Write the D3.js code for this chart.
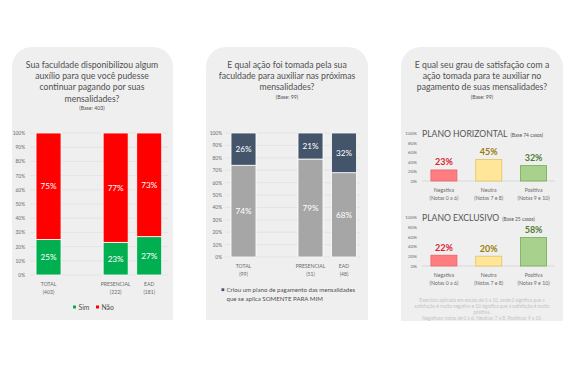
<!DOCTYPE html>
<html><head><meta charset="utf-8">
<script src="https://cdn.jsdelivr.net/npm/d3@7"></script>
<style>
html,body{margin:0;padding:0;background:#fff;}
svg{display:block;font-family:Lato, "Open Sans", sans-serif;}
</style></head>
<body>
<svg id="chart" width="574" height="366"></svg>
<script>
// ---------- DATA ----------
const p1Title = ["Sua faculdade disponibilizou algum", "auxílio para que você pudesse", "continuar pagando por suas", "mensalidades?"];
const p1Base = "(Base: 403)";
const p1Categories = ["TOTAL", "", "PRESENCIAL", "EAD"];
const p1CatBases = ["(403)", "", "(222)", "(181)"];
const p1Sim = [25, null, 23, 27];
const p1Nao = [75, null, 77, 73];
const p1Legend = ["Sim", "Não"];

const p2Title = ["E qual ação foi tomada pela sua", "faculdade para auxiliar nas próximas", "mensalidades?"];
const p2Base = "(Base: 99)";
const p2Categories = ["TOTAL", "", "PRESENCIAL", "EAD"];
const p2CatBases = ["(99)", "", "(51)", "(48)"];
const p2Somente = [26, null, 21, 32];
const p2Outro = [74, null, 79, 68];
const p2Legend = ["Criou um plano de pagamento das mensalidades", "que se aplica SOMENTE PARA MIM"];

const p3Title = ["E qual seu grau de satisfação com a", "ação tomada para te auxiliar no", "pagamento de suas mensalidades?"];
const p3Base = "(Base: 99)";
const p3Categories = ["Negativa", "Neutra", "Positiva"];
const p3CatNotes = ["(Notas 0 a 6)", "(Notas 7 e 8)", "(Notas 9 e 10)"];
const p3Horizontal = [23, 45, 32];
const p3Exclusivo = [22, 20, 58];
const p3SubTitles = ["PLANO HORIZONTAL", "PLANO EXCLUSIVO"];
const p3SubBases = ["(Base 74 casos)", "(Base 25 casos)"];
const p3Footnote = ["Exercício aplicado em escala de 0 a 10, onde 0 significa que a",
  "satisfação é muito negativa e 10 significa que a satisfação é muito",
  "positiva.",
  "Negativas: notas de 0 a 6; Neutras: 7 a 8; Positivas: 9 a 10."];
const stackTicks = [0,10,20,30,40,50,60,70,80,90,100];
const p3Ticks = [0,20,40,60,80,100];

// ---------- DRAW ----------
const svg = d3.select("#chart");
const PANEL_BG = "#efefef", TXT = "#505050", AX = "#6a6a6a";

function panel(x0, x1, y0, y1, r) {
  const p = d3.path();
  p.moveTo(x0, y1); p.lineTo(x0, y0 + r);
  p.arcTo(x0, y0, x0 + r, y0, r);
  p.lineTo(x1 - r, y0);
  p.arcTo(x1, y0, x1, y0 + r, r);
  p.lineTo(x1, y1); p.closePath();
  svg.append("path").attr("d", p.toString()).attr("fill", PANEL_BG);
}
panel(12, 173, 47, 320, 20);
panel(206, 368, 47, 320, 20);
panel(401, 563, 47, 321, 20);

function title(lines, base, cx, y0) {
  const g = svg.append("g").attr("text-anchor", "middle").attr("fill", TXT);
  lines.forEach((l, i) => g.append("text").attr("x", cx).attr("y", y0 + i * 11.2)
    .attr("font-size", 8.7).text(l));
  g.append("text").attr("x", cx).attr("y", y0 + (lines.length - 1) * 11.2 + 8.5)
    .attr("font-size", 5.2).text(base);
}
title(p1Title, p1Base, 92, 68);
title(p2Title, p2Base, 287, 68);
title(p3Title, p3Base, 482, 68);

// stacked panel
function stacked(cfg) {
  const x = d3.scaleBand().domain(d3.range(cfg.cats.length)).range(cfg.xr)
    .paddingInner(0.255).paddingOuter(0.1275);
  const y = d3.scaleLinear().domain([0, 100]).range(cfg.yr);
  const g = svg.append("g");
  g.selectAll(".grid").data(cfg.ticks).join("line")
    .attr("x1", cfg.gx[0]).attr("x2", cfg.gx[1])
    .attr("y1", d => y(d)).attr("y2", d => y(d))
    .attr("stroke", "#dcdcdc").attr("stroke-width", 0.6);
  const ax = g.append("g").attr("transform", `translate(${cfg.axX},0)`)
    .call(d3.axisLeft(y).tickValues(cfg.ticks).tickSize(0).tickPadding(0).tickFormat(d => d + "%"));
  ax.select(".domain").remove();
  ax.selectAll("text").attr("font-size", 4.8).attr("fill", AX).attr("font-family", "Lato, sans-serif");
  const idx = d3.range(cfg.cats.length).filter(i => cfg.a[i] != null);
  idx.forEach(i => {
    const segs = [[0, cfg.a[i], cfg.ca], [cfg.a[i], cfg.a[i] + cfg.b[i], cfg.cb]];
    segs.forEach(([lo, hi, col]) => {
      g.append("rect").attr("x", x(i)).attr("width", x.bandwidth())
        .attr("y", y(hi)).attr("height", y(lo) - y(hi))
        .attr("fill", col).attr("stroke", "#ffffff").attr("stroke-width", 0.8);
      g.append("text").attr("x", x(i) + x.bandwidth() / 2).attr("y", y((lo + hi) / 2) + 3)
        .attr("text-anchor", "middle").attr("font-size", 8.2).attr("fill", "#ffffff")
        .text((hi - lo) + "%");
    });
  });
  cfg.cats.forEach((c, i) => {
    if (!c) return;
    const cx = x(i) + x.bandwidth() / 2;
    g.append("text").attr("x", cx).attr("y", cfg.yr[0] + 11).attr("text-anchor", "middle")
      .attr("font-size", 5.1).attr("fill", AX).text(c);
    g.append("text").attr("x", cx).attr("y", cfg.yr[0] + 19).attr("text-anchor", "middle")
      .attr("font-size", 5.1).attr("fill", AX).text(cfg.bases[i]);
  });
}
stacked({cats: p1Categories, bases: p1CatBases, a: p1Sim, b: p1Nao, ca: "#00b050", cb: "#ff0000",
  xr: [31.75, 166], yr: [275, 133], gx: [30, 168], axX: 25, ticks: stackTicks});
stacked({cats: p2Categories, bases: p2CatBases, a: p2Outro, b: p2Somente, ca: "#a6a6a6", cb: "#44546a",
  xr: [226.75, 360.75], yr: [257, 133], gx: [225, 360], axX: 222, ticks: stackTicks});

const lg1 = svg.append("g").attr("font-size", 6.8).attr("fill", TXT);
lg1.append("rect").attr("x", 73).attr("y", 305.5).attr("width", 3).attr("height", 3).attr("fill", "#00b050");
lg1.append("text").attr("x", 78.5).attr("y", 310).text(p1Legend[0]);
lg1.append("rect").attr("x", 96).attr("y", 305.5).attr("width", 3).attr("height", 3).attr("fill", "#ff0000");
lg1.append("text").attr("x", 101.5).attr("y", 310).text(p1Legend[1]);
const lg2 = svg.append("g").attr("font-size", 6.1).attr("fill", TXT);
lg2.append("rect").attr("x", 221.5).attr("y", 288.3).attr("width", 2.8).attr("height", 2.8).attr("fill", "#44546a");
lg2.append("text").attr("x", 226.5).attr("y", 292).text(p2Legend[0]);
lg2.append("text").attr("x", 226.5).attr("y", 300.5).text(p2Legend[1]);

const p3Fill = ["#ff7c80", "#ffe699", "#a9d18e"];
const p3Stroke = ["#e8636a", "#e2c25e", "#72ad4b"];
const p3Lab = ["#d9232e", "#9c7c0a", "#4f7d32"];
function subchart(vals, yr, ti) {
  const x = d3.scaleBand().domain(d3.range(p3Categories.length)).range([421.5, 556])
    .paddingInner(0.42).paddingOuter(0.21);
  const y = d3.scaleLinear().domain([0, 100]).range(yr);
  const g = svg.append("g");
  const ax = g.append("g").attr("transform", "translate(417,0)")
    .call(d3.axisLeft(y).tickValues(p3Ticks).tickSize(0).tickPadding(0).tickFormat(d => d + "%"));
  ax.select(".domain").remove();
  ax.selectAll("text").attr("font-size", 4.6).attr("fill", AX).attr("font-family", "Lato, sans-serif");
  g.append("line").attr("x1", 422).attr("x2", 555).attr("y1", y(0)).attr("y2", y(0))
    .attr("stroke", "#d0d0d0").attr("stroke-width", 0.7);
  g.selectAll("rect").data(vals).join("rect")
    .attr("x", (d, i) => x(i)).attr("width", x.bandwidth())
    .attr("y", d => y(d)).attr("height", d => y(0) - y(d))
    .attr("fill", (d, i) => p3Fill[i]).attr("stroke", (d, i) => p3Stroke[i]).attr("stroke-width", 0.8);
  g.selectAll(".vl").data(vals).join("text")
    .attr("x", (d, i) => x(i) + x.bandwidth() / 2).attr("y", d => y(d) - 4.5)
    .attr("text-anchor", "middle").attr("font-size", 9).attr("font-weight", "bold")
    .attr("fill", (d, i) => p3Lab[i]).text(d => d + "%");
  p3Categories.forEach((c, i) => {
    const cx = x(i) + x.bandwidth() / 2;
    g.append("text").attr("x", cx).attr("y", y(0) + 11).attr("text-anchor", "middle")
      .attr("font-size", 5.2).attr("fill", AX).text(c);
    g.append("text").attr("x", cx).attr("y", y(0) + 19).attr("text-anchor", "middle")
      .attr("font-size", 5.2).attr("fill", AX).text(p3CatNotes[i]);
  });
  const t = g.append("text").attr("x", 422).attr("y", yr[1] + 3.5).attr("fill", "#555");
  t.append("tspan").attr("font-size", 8.6).text(p3SubTitles[ti]);
  t.append("tspan").attr("font-size", 4.9).attr("dx", 3).text(p3SubBases[ti]);
}
subchart(p3Horizontal, [181, 133], 0);
subchart(p3Exclusivo, [266, 217], 1);

const fn = svg.append("g").attr("text-anchor", "middle").attr("fill", "#c4c4c4").attr("font-size", 4.7);
p3Footnote.forEach((l, i) => fn.append("text").attr("x", 482).attr("y", 301.5 + i * 6.3).text(l));
</script>
</body></html>
